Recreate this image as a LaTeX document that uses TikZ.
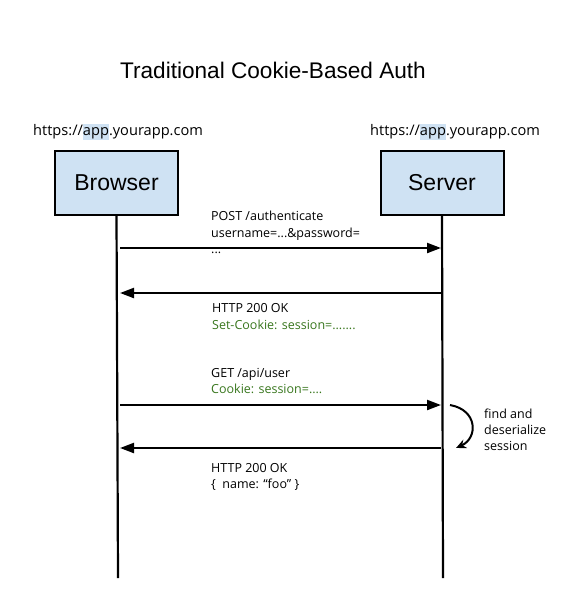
\documentclass[tikz,border=0pt]{standalone}
\usepackage{fontspec}
\setmainfont{Open Sans}
\newfontfamily\headfont{Liberation Sans}
\usepackage{xcolor}
\usepackage{tikz}
\usetikzlibrary{arrows.meta}

\definecolor{boxblue}{HTML}{CFE2F3}
\definecolor{hlblue}{HTML}{CFE2F3}
\definecolor{cookiegreen}{HTML}{38761D}
\newcommand{\hlapp}[1]{{\setlength{\fboxsep}{0pt}\colorbox{hlblue}{\strut #1}}}

\tikzset{
	actor/.style={draw=black,line width=2pt,fill=boxblue,minimum width=123pt,minimum height=64pt,font=\headfont\fontsize{23}{26}\selectfont},
	msg/.style={anchor=base west,inner sep=0pt,font=\fontsize{12.5}{15}\selectfont},
	url/.style={anchor=base west,inner sep=0pt,font=\fontsize{14.6}{16}\selectfont},
}

\begin{document}
\begin{tikzpicture}[x=1pt,y=-1pt]
		\useasboundingbox (0,0) rectangle (561,610);
		\node[anchor=base,inner sep=0pt,font=\headfont\fontsize{22.6}{26}\selectfont] (T) at (273,78) {Traditional Cookie-Based Auth};
		\node[url] (UB) at (33,135) {https://\hlapp{app}.yourapp.com};
		\node[url] (US) at (370,135) {https://\hlapp{app}.yourapp.com};
		\node[actor] (B) at (116.5,183) {Browser};
		\node[actor] (S) at (442,183) {Server};
		\coordinate (Bend) at (118,578);
		\coordinate (Send) at (443,578);
		% message points on the lifelines
		\coordinate (B1) at (118,248);
		\coordinate (S1) at (443,248);
		\coordinate (B2) at (118,293);
		\coordinate (S2) at (443,293);
		\coordinate (B3) at (118,405);
		\coordinate (S3) at (443,405);
		\coordinate (B4) at (118,448);
		\coordinate (S4) at (443,448);
		%
		% labels
		\node[msg] (m1a) at (211,220) {POST /authenticate};
		\node[msg] (m1b) at (211,237) {username=...\&password=};
		\node[msg] (m1c) at (211,253) {...};
		\node[msg] (m2a) at (212,312) {HTTP 200 OK};
		\node[msg,text=cookiegreen] (m2b) at (212,329) {Set-Cookie: session=.......};
		\node[msg] (m3a) at (211,377) {GET /api/user};
		\node[msg,text=cookiegreen] (m3b) at (211,393) {Cookie: session=....};
		\node[msg] (m4a) at (211,472) {HTTP 200 OK};
		\node[msg] (m4b) at (211,488) {\{\ \ name: “foo” \}};
		\node[msg] (f1) at (484,418) {find and};
		\node[msg] (f2) at (484,434) {deserialize};
		\node[msg] (f3) at (484,450) {session};
		%
		% lifelines
		\draw[line width=2.2pt] (B.south) -- (Bend);
		\draw[line width=2.2pt] (S.south) -- (Send);
		%
		\path[line width=2.2pt,>={Triangle[length=14pt,width=10pt]}]
		% horizontal arrows
		(B1) edge[->,shorten <=2pt,shorten >=2pt] (S1)
		(S2) edge[->,shorten <=2pt,shorten >=2pt] (B2)
		(B3) edge[->,shorten <=2pt,shorten >=2pt] (S3)
		(S4) edge[->,shorten <=2pt,shorten >=2pt] (B4);
		% lookup loop
		\coordinate (L1) at (450,405);
		\coordinate (L2) at (456,448);
		\draw[line width=2pt,-{Stealth[length=10pt,width=9pt]}] (L1) .. controls (478,410) and (478,438) .. (L2);
\end{tikzpicture}
\end{document}
